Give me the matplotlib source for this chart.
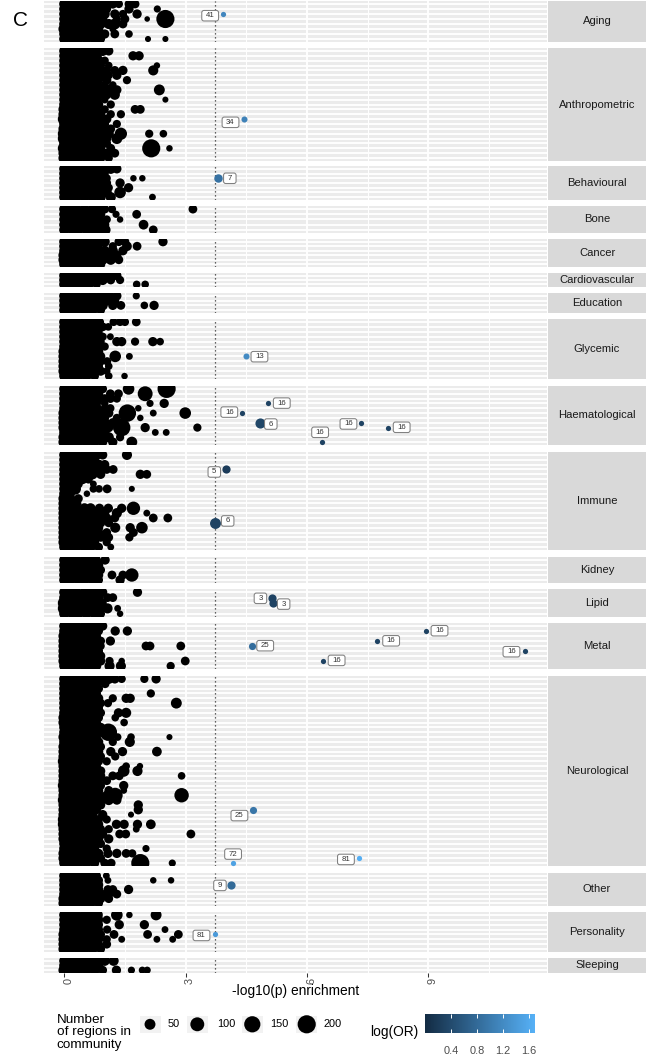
import numpy as np
import matplotlib
matplotlib.use("Agg")
import matplotlib.pyplot as plt
import matplotlib.transforms as mtransforms
from matplotlib.colors import LinearSegmentedColormap, Normalize
from matplotlib.cm import ScalarMappable
from matplotlib.patches import FancyBboxPatch, Rectangle

plt.rcParams["font.family"] = ["Liberation Sans", "DejaVu Sans"]

W, H, DPI = 655, 1057, 100

# ---------------------------------------------------------------- data
FACETS = ["Aging", "Anthropometric", "Behavioural", "Bone", "Cancer",
          "Cardiovascular", "Education", "Glycemic", "Haematological", "Immune",
          "Kidney", "Lipid", "Metal", "Neurological", "Other", "Personality",
          "Sleeping"]

# -log10(p) enrichment of every community for each trait (one string per trait
# row, top to bottom). "x/n" = community with n regions; a bare x uses
# TYPICAL_REGIONS.
TYPICAL_REGIONS = 40

AGING = [
    "0 .15 .3 .5 .7 .9 1.05 1.2/30 1.35/20 1.6/25 1.75/25",
    "0 .15 .3 .5 .7 .85 1.05/25 1.6/30 2.3/12",
    "0 .15 .3 .45 .6 .8 1.0 1.25/30 1.45/20 1.8/30",
    "0 .2 .4 .55 .75 .95/30 1.3/20 1.5/25 2.05/4 2.5/200",
    "0 .15 .35 .5 .7 .9 1.1 1.25/50 1.45/25",
    "0/60 .2 .35 .5 .7 .85/30 1.2/10",
    "0 .15 .3 .5 .65 .8 1.0/30 1.25/25 1.6/15",
    "0 .2 .35 .55 .75 .9/25 2.07/6 2.5/6",
]
ANTHROPOMETRIC = [
    "0 .15 .3 .5 .65 .8 .95 1.1/30",
    "0 .15 .3 .45 .6 .8 1.7/30 1.85/30",
    "0 .2 .35 .5 .7 .85 1.0/20",
    "0 .15 .3 .5 .7 .9/25 1.1/15 2.29/8",
    "0 .15 .3 .5 .65 .85 1.05/25 1.25/25 1.45/30 2.2/40",
    "0 .2 .4 .55 .75 .9 1.1/20 1.3/30",
    "0 .15 .3 .5 .7 .85/25 1.05/30 1.55/20",
    "0 .15 .35 .5 .65 .8 1.0/20 1.2/15",
    "0 .2 .35 .55 .7 .9 1.1/40 1.3/30 2.35/50",
    "0 .15 .3 .5 .65 .85 1.05/30 1.25/40",
    "0 .15 .3 .45 .6 .8 1.0/15 2.5/6",
    "0 .2 .35 .5 .7 .85/30 1.15/20",
    "0/60 .15 .35 .5 .65 .8/25 1.0/20 1.75/25 1.88/25",
    "0/60 .2 .35 .55 .75 .9/30 1.15/20 1.4/20",
    "0/80 .15 .3 .5 .7 .85 1.05/30",
    "0 .15 .3 .45 .6 .8 1.0/25 1.3/20",
    "0/60 .2 .35 .55 .75 .95/30 1.15/25",
    "0/80 .15 .3 .5 .7 .9 1.1/40 1.4/70 2.1/20 2.45/15",
    "0/80 .2 .35 .5 .65 .85 1.05/30 1.3/50",
    "0 .15 .3 .5 .7 .85 1.05/25",
    "0/80 .15 .35 .5 .7 .9/30 1.15/25 2.15/200 2.6/8",
    "0/60 .15 .3 .5 .65 .85 1.05/30 1.25/25",
    "0/60 .2 .35 .55 .75 .9/30 1.1/20",
]
BEHAVIOURAL = [
    "0 .15 .3 .5 .7 .85 1.0 1.15 1.3/30",
    "0 .15 .3 .5 .65 .8 1.0/20",
    "0 .2 .35 .5 .7 .9/25 1.05/20 1.71/8 1.93/8",
    "0 .15 .3 .45 .65 .85 1.05/25 1.38/30",
    "0 .15 .3 .5 .7 .9/30 1.1/20 1.59/30",
    "0 .2 .35 .55 .7 .85 1.05/40 1.38/60",
    "0 .15 .3 .5 .7 .9 1.15/40 2.18/10",
]
BONE = [
    "0 .15 .3 .5 .7 .85 1.0/25 1.18/20 3.18/25",
    "0 .2 .35 .55 .75 .9/30 1.28/12 1.79/25",
    "0 .15 .3 .5 .7 .85 1.05/20 1.38/8",
    "0 .15 .35 .5 .65 .8 1.0/30 1.96/35",
    "0 .2 .35 .55 .7 .85 1.01/50 2.2/25",
]
CANCER = [
    "0 .15 .3 .5 .65 .8 1.0 1.35/25 1.5/25 2.44/30",
    "0 .2 .35 .5 .7 .85/20 1.2/20 1.55/35 1.8/25",
    "0 .15 .3 .45 .6 .8 1.0 1.2 1.45/30",
    "0/60 .15 .35 .5 .7 .9 1.1 1.3/30",
    "0/60 .2 .35 .55 .75 .95 1.15 1.35/25",
    "0 .15 .3 .5 .7 .9/30",
]
CARDIOVASCULAR = [
    "0 .15 .3 .5 .7 .9 1.1 1.3/30",
    "0 .15 .35 .55 .75 .95 1.15/25 1.38/20",
    "0 .2 .4 .6 .8/20 1.79/15 2.0/15",
]
EDUCATION = [
    "0 .15 .3 .5 .7 .9 1.1 1.3/30 1.78/12",
    "0 .15 .35 .5 .7 .85 1.05 1.25/25",
    "0 .2 .35 .55 .75 .95 1.2/30 1.4/25 1.98/15 2.22/30",
    "0 .15 .3 .5 .7 .9/25",
]
GLYCEMIC = [
    "0 .15 .3 .5 .65 .8/30 .89/15 1.22/20 1.38/20 1.5/20 1.78/25",
    "0 .15 .3 .45 .6 .8 .95/25 1.09/15",
    "0 .2 .35 .55 .7 .85/20",
    "0 .15 .3 .5 .65 .8 .95/20 1.14/10",
    "0 .15 .35 .5 .7 .9/20 1.3/30 1.42/30 1.75/20 2.19/30 2.37/15",
    "0 .2 .35 .5 .7 .85/25 1.0/20",
    "0/60 .15 .3 .5 .65 .85/30",
    "0/60 .15 .35 .55 .75 .9/30 1.26/60 1.61/10",
    "0/60 .2 .35 .5 .7 .9/25 1.06/20",
    "0/60 .15 .3 .5 .65 .85/25 1.1/15",
    "0/60 .15 .35 .55 .7 .9/30 1.05/15",
    "0 .2 .35 .55 .75/25 1.1/15 1.49/8",
]
HAEMATOLOGICAL = [
    "0 .15 .3 .5 .65 .8 .95/25 1.59/60 2.53/200",
    "0 .15 .35 .5 .7 .85/30 1.14/25 1.34/25 2.0/120",
    "0 .2 .35 .5 .7 .85 1.0/25 1.14/25 1.3/20",
    "0 .15 .3 .5 .65 .8/25 1.0/15 2.12/12 2.47/30",
    "0 .15 .3 .45 .6 .8 1.0/20 1.14/20 1.83/8",
    "0/60 .2 .35 .55 .7 .9 1.1/30 1.56/180 2.2/10 2.99/60",
    "0/60 .15 .3 .5 .7 .85 1.0/25 1.3/20 1.88/8",
    "0/60 .15 .35 .5 .65 .8 1.0/40 1.2/30",
    "0/60 .2 .35 .55 .75 .9 1.1/30 1.42/180 2.0/30 3.29/20",
    "0 .15 .3 .5 .65 .8 1.0/30 2.25/10 2.52/10",
    "0/60 .15 .3 .5 .7 .9 1.1/40 1.38/20",
    "0/60 .2 .35 .55 .75 .95/30 1.2/30 1.67/50",
]
IMMUNE = [
    "0 .15 .3 .5 .65 .8 .95/30 1.55/40",
    "0 .15 .3 .45 .6 .75/25",
    "0 .2 .35 .5 .7 .85 1.0/30",
    "0 .15 .3 .5 .65 .85 1.05/25 1.21/25",
    "0 .15 .35 .5 .7 .9/30 1.88/30 2.04/25",
    "0 .15 .3 .45 .6/25",
    "0 .2 .35/25 .72/10",
    "0 .15/25 .27/60 .72/15 .86/15 1.06/25 1.67/6",
    "0 .15/30 .56/8",
    "0/60 .15 .35/25",
    "0/60 .15 .3/25 .35/6",
    "0/60 .15 .3 .5 .65 .87/30 1.09/30 1.42/30 1.71/90",
    "0/60 .2 .35 .5 .7 .85 1.0/30 1.3/40 2.04/10",
    "0/60 .15 .3 .5 .65 .85 1.05/30 1.25/25 2.2/25 2.56/25",
    "0/60 .15 .35 .55 .7 .9/30 1.1/25",
    "0/60 .2 .35 .5 .7 .85/30 1.26/40 1.63/30 1.92/60",
    "0/60 .15 .3 .5 .65 .85/30 1.05/25 1.71/25",
    "0/60 .15 .35 .5 .7 .9/25 1.0/25 1.1/25 1.61/20",
    "0/60 .2 .35 .55 .75/30 1.05/20",
    "0 .15 .3 .5 .65 .85/25 1.15/10",
]
KIDNEY = [
    "0 .15 .3 .5 .65 .8/25 1.01/30",
    "0 .15 .35 .5 .7 .85/30",
    "0 .2 .35 .55 .7 .9/25",
    "0 .15 .3 .5 .65 .85/30 1.18/25 1.45/25 1.67/90",
    "0 .15 .35 .5 .7 .85/25 1.38/30",
]
LIPID = [
    "0 .15 .3 .5 .65 .8 .95/30 1.81/30",
    "0 .2 .35 .55 .7 .85 1.07/25 1.2/25",
    "0/80 .15 .3 .5 .65 .8/30 .95/20",
    "0/80 .15 .35 .5 .7 .9/25 1.07/40 1.32/10",
    "0 .2 .35 .55 .75 .9/25 1.38/8",
]
METAL = [
    "0 .15 .3 .5 .65 .8 .95/30",
    "0 .15 .35 .5 .7 .85/25 1.26/30 1.56/30",
    "0/60 .2 .35 .5 .65 .8/25",
    "0/60 .15 .3 .5 .7 .9/25 1.14/30",
    "0/60 .2 .35 .55 .75/30 .9/20 2.02/25 2.12/25 2.88/25",
    "0/60 .15 .3 .5 .65 .85/25",
    "0/60 .15 .35 .5 .7 .9/30",
    "0/60 .2 .35 .55 .75 .9/30 1.12/20 1.42/8 2.99/25",
    "0 .15 .3 .5 .65 .8/30 1.12/40 1.4/40 2.63/20",
]
NEUROLOGICAL = [
    "0 .15 .3 .5 .7 .9 1.1 1.25/30 1.42/20 1.98/20 2.27/30",
    "0 .15 .3 .5 .65 .8 1.01/25",
    "0 .2 .35 .55 .7 .85/25",
    "0 .15 .3 .45 .6 .8/25 2.14/20",
    "0 .15 .35 .5 .7 .85/30 1.2/20 1.53/30 1.63/30",
    "0 .2 .35 .5 .7 .9/25 1.08/20 2.77/50",
    "0 .15 .3 .5 .65 .85/25",
    "0 .15 .35 .55 .7 .9/25 1.34/30 1.53/40",
    "0/60 .2 .35 .5 .7 .85/25 1.26/15",
    "0/60 .15 .3 .5 .65 .8/25 1.48/15",
    "0 .15 .35 .5 .7 .9/30",
    "0 .2 .35 .55 .7 .85/25 1.09/180",
    "0/60 .15 .3 .5 .65 .8/25 1.32/15 1.65/15 2.6/6",
    "0 .15 .35 .5 .7 .85/30 1.2/20 1.62/40",
    "0/60 .2 .35 .55 .75 .9/25",
    "0/60 .15 .3 .5 .65 .85/30 1.15/30 1.44/30 2.29/35",
    "0/60 .15 .35 .5 .7 .9/25 1.26/20",
    "0/80 .2 .35 .55 .7 .85/25 1.05/20",
    "0/60 .15 .3 .5 .65 .8/25 1.53/15 1.87/8",
    "0/60 .15 .35 .5 .7 .9/30 1.47/60 1.81/40",
    "0/60 .2 .35 .55 .75 .9/30 1.2/25 1.36/25 2.9/15",
    "0/60 .15 .3 .5 .65 .85/25 1.05/25",
    "0/80 .15 .35 .5 .7 .9/25 1.47/30",
    "0/60 .2 .35 .55 .7 .85/30 1.1/25 1.47/10",
    "0/60 .15 .3 .5 .65 .85 1.05/30 1.26/120 2.9/110",
    "0/80 .15 .35 .5 .7 .9 1.1/40 1.3/30",
    "0/60 .2 .35 .55 .75 .9/30 1.83/30",
    "0/60 .15 .3 .5 .65 .8/25 1.83/30",
    "0/60 .15 .35 .5 .7 .95/30 1.65/6",
    "0/80 .2 .35 .55 .7 .85/25 1.05/20",
    "0/80 .15 .3 .5 .65 .85/30 1.29/30 1.48/30 1.81/30 2.14/35",
    "0/60 .15 .35 .5 .7 .9/25 1.1/20 1.78/10",
    "0/60 .2 .35 .55 .75 .95/30 1.37/25 1.52/25 3.13/25",
    "0/60 .15 .3 .5 .65 .85/30 1.1/30",
    "0 .15 .35 .5 .7 .9/25",
    "0 .2 .35 .55 .75/30 1.05/20 2.02/12",
    "0/60 .15 .3 .5 .65 .85/30 1.08/30 1.3/30 1.53/25 1.68/20",
    "0/60 .15 .35 .5 .7 .9/25",
    "0 .2 .35 .55 .75/30 1.0/25 1.16/25 1.88/200 2.67/12",
]
OTHER = [
    "0 .15 .3 .5 .65 .8/25 1.04/10",
    "0 .15 .35 .5 .7 .85/25 1.08/10 2.2/8 2.64/8",
    "0 .2 .35 .55 .7 .85/30",
    "0 .15 .3 .5 .65 .85/30 1.08/25 1.2/25 1.59/30",
    "0 .15 .35 .5 .7 .9 1.1/30 1.3/25",
    "0/60 .2 .35 .55 .75 .9/30 1.1/25",
    "0/60 .15 .3 .5 .65 .85/25",
]
PERSONALITY = [
    "0 .15 .3 .5 .65 .81/60 1.3/60 1.61/8 2.27/50",
    "0 .15 .35 .5 .7 .85/30 1.05/20",
    "0 .2 .35 .55 .7 .85/25 1.36/30 1.98/30",
    "0 .15 .3 .5 .65 .85/25 1.06/20 2.49/10",
    "0/60 .15 .35 .5 .7 .9/25 1.23/25 2.06/25 2.82/25",
    "0/60 .2 .35 .55 .7 .85/30 1.05/20 1.42/10 2.29/10 2.68/10",
    "0/60 .15 .3 .5 .65 .85/25 1.05/25",
    "0/60 .15 .35 .5 .7 .9/25",
]
SLEEPING = [
    "0 .15 .3 .5 .65 .8 1.0/40 1.22/40",
    "0 .15 .35 .5 .7 .85/30",
    "0/60 .2 .35 .55 .75 .95/25 1.29/30 1.66/12 1.93/12 2.05/12",
]

FACET_ROWS = [AGING, ANTHROPOMETRIC, BEHAVIOURAL, BONE, CANCER, CARDIOVASCULAR,
              EDUCATION, GLYCEMIC, HAEMATOLOGICAL, IMMUNE, KIDNEY, LIPID, METAL,
              NEUROLOGICAL, OTHER, PERSONALITY, SLEEPING]

# significant community / trait pairs
SIG_FACET = ["Aging", "Anthropometric", "Behavioural", "Glycemic",
             "Haematological", "Haematological", "Haematological",
             "Haematological", "Haematological", "Haematological",
             "Immune", "Immune", "Lipid", "Lipid",
             "Metal", "Metal", "Metal", "Metal", "Metal",
             "Neurological", "Neurological", "Neurological",
             "Other", "Personality"]
SIG_ROW = [2, 14, 2, 7, 3, 5, 7, 7, 8, 11, 3, 14, 1, 2, 1, 3, 4, 5, 7, 27, 38, 37, 2, 4]
SIG_X = [3.92, 4.45, 3.81, 4.49, 5.03, 4.40, 4.84, 7.33, 8.01, 6.38, 3.99, 3.73,
         5.14, 5.15, 8.94, 7.74, 4.63, 11.38, 6.40, 4.66, 4.16, 7.29, 4.12, 3.73]
SIG_REGIONS = [3, 6, 22, 6, 3, 3, 40, 3, 3, 3, 20, 50, 20, 20, 3, 3, 12, 3, 3,
               12, 3, 3, 20, 3]
SIG_LOGOR = [1.15, 1.10, 0.90, 1.20, 0.30, 0.30, 0.35, 0.30, 0.30, 0.30, 0.22,
             0.30, 0.30, 0.30, 0.30, 0.30, 0.85, 0.30, 0.30, 0.95, 1.50, 1.65,
             0.80, 1.40]
SIG_LABEL = ["41", "34", "7", "13", "16", "16", "6", "16", "16", "16", "5", "6",
             "3", "3", "16", "16", "25", "16", "16", "25", "72", "81", "9", "81"]
# repelled label placement relative to its point (pixels, right / down)
LABEL_DX = [-12.7, -13.8, 11.4, 13.5, 14.0, -13.0, 10.7, -12.4, 13.3, -2.3, -11.4,
            12.5, -11.8, 11.0, 13.5, 13.7, 13.6, -13.3, 13.4, -13.4, 0.5, -13.3,
            -11.0, -13.7]
LABEL_DY = [1.7, 3.2, 0.0, 0.3, -0.3, -1.0, 1.3, 1.2, -0.3, -9.8, 2.5, -1.9, 0.7,
            1.1, -0.3, -0.2, -0.3, 0.7, -0.6, 5.8, -9.0, 1.2, 0.5, 1.0]

THRESHOLD = 3.73
X_BREAKS = [0, 3, 6, 9]
X_MINOR = [1.5, 4.5, 7.5, 10.5]
X_LIM = (-0.5, 11.93)
OR_LIM = (0.0, 1.69)
OR_BREAKS = [0.4, 0.8, 1.2, 1.6]
SIZE_BREAKS = [50, 100, 150, 200]

# ---------------------------------------------------------------- layout
FACET_TOP = [1, 48, 166, 206, 239, 273, 293, 319, 386, 452, 557, 589, 623, 676,
             873, 912, 958]
FACET_BOTTOM = [42, 161, 200, 233, 267, 287, 313, 379, 445, 550, 583, 617, 669,
                866, 906, 952, 973]
PANEL_L, PANEL_R = 44, 547
STRIP_L, STRIP_R = 548, 646

MM_PX = 3.8
N_LIM = (1, 350)

PANEL_BG = "#EBEBEB"
STRIP_BG = "#D9D9D9"
cmap = LinearSegmentedColormap.from_list("gg_blue", ["#132B43", "#56B1F7"])
norm = Normalize(*OR_LIM)


def px_rect(left, top, width, height):
    return [left / W, 1 - (top + height) / H, width / W, height / H]


def marker_area(n):
    n = np.asarray(n, dtype=float)
    r = np.clip((n - N_LIM[0]) / (N_LIM[1] - N_LIM[0]), 0, 1)
    d_px = MM_PX * (1 + 5 * np.sqrt(r))
    return (d_px * 72.0 / DPI) ** 2


def parse_row(text):
    xs, ns = [], []
    for tok in text.split():
        if "/" in tok:
            a, b = tok.split("/")
            xs.append(float(a))
            ns.append(float(b))
        else:
            xs.append(float(tok))
            ns.append(TYPICAL_REGIONS)
    return xs, ns


fig = plt.figure(figsize=(W / DPI, H / DPI), dpi=DPI)
fig.patch.set_facecolor("white")

axes = {}
for i, facet in enumerate(FACETS):
    top, bot = FACET_TOP[i], FACET_BOTTOM[i]
    rows = FACET_ROWS[i]
    nrow = len(rows)
    ax = fig.add_axes(px_rect(PANEL_L, top, PANEL_R - PANEL_L, bot - top))
    axes[facet] = ax
    ax.set_facecolor(PANEL_BG)
    ax.set_xlim(*X_LIM)
    ax.set_ylim(nrow - 1 + 0.6, -0.6)
    for s in ax.spines.values():
        s.set_visible(False)
    for xv in X_BREAKS:
        ax.axvline(xv, color="white", lw=1.35, zorder=0.5)
    for xv in X_MINOR:
        ax.axvline(xv, color="white", lw=0.7, zorder=0.5)
    for r in range(nrow):
        ax.axhline(r, color="white", lw=1.35, zorder=0.5)
    ax.axvline(THRESHOLD, color="#333333", lw=0.9, ls=(0, (1, 2.2)), zorder=1)

    px_, py_, pn_ = [], [], []
    for r, text in enumerate(rows):
        xs, ns = parse_row(text)
        px_ += xs
        py_ += [r] * len(xs)
        pn_ += ns
    ax.scatter(px_, py_, s=marker_area(pn_), c="black", linewidths=0, zorder=2)

    ax.set_yticks([])
    if i == len(FACETS) - 1:
        ax.set_xticks(X_BREAKS)
        ax.set_xticklabels([str(b) for b in X_BREAKS], rotation=90,
                           fontsize=7.9, color="#4D4D4D", va="top", ha="center")
        ax.tick_params(axis="x", length=2.7, width=0.75, color="#333333", pad=0.8)
    else:
        ax.set_xticks([])

    sax = fig.add_axes(px_rect(STRIP_L, top, STRIP_R - STRIP_L, bot - top))
    sax.set_facecolor(STRIP_BG)
    sax.set_xticks([])
    sax.set_yticks([])
    for s in sax.spines.values():
        s.set_visible(False)
    sax.text(0.5, 0.5, facet, transform=sax.transAxes, ha="center", va="center",
             fontsize=8.1, color="#1A1A1A")

# significant points with their labels
for k in range(len(SIG_FACET)):
    ax = axes[SIG_FACET[k]]
    x, y = SIG_X[k], SIG_ROW[k]
    ax.scatter([x], [y], s=marker_area([SIG_REGIONS[k]]),
               c=[cmap(norm(SIG_LOGOR[k]))], linewidths=0, zorder=4)
    tr = (mtransforms.Affine2D().translate(LABEL_DX[k], -LABEL_DY[k])
          + mtransforms.ScaledTranslation(x, y, ax.transData))
    lab = SIG_LABEL[k]
    bw = 8.2 + 4.3 * len(lab)
    bh = 10.5
    ax.add_patch(FancyBboxPatch((-bw / 2, -bh / 2), bw, bh,
                                boxstyle="round,pad=0,rounding_size=2.2",
                                transform=tr, fc="white", ec="#7F7F7F", lw=0.75,
                                zorder=5, clip_on=False))
    ax.text(0, 0, lab, transform=tr, ha="center", va="center", fontsize=5.6,
            color="#333333", zorder=6, clip_on=False)

# overlay for free-standing text and the size legend
ov = fig.add_axes([0, 0, 1, 1], zorder=-1)
ov.set_xlim(0, W)
ov.set_ylim(H, 0)
ov.axis("off")

ov.text(20, 20.5, "C", ha="center", va="center", fontsize=15, color="black")
ov.text((PANEL_L + PANEL_R) / 2, 991, "-log10(p) enrichment", ha="center",
        va="center", fontsize=9.9, color="black")

for yy, line in zip([1020, 1032.3, 1045], ["Number", "of regions in", "community"]):
    ov.text(56.7, yy, line, ha="left", va="center", fontsize=9.7, color="black")

KEY_CX = [150, 197.3, 252.3, 306.7]
KEY_TX = [168, 216.7, 270, 324]
KEY_CY = 1024.3
for cx, tx, n in zip(KEY_CX, KEY_TX, SIZE_BREAKS):
    ov.add_patch(Rectangle((cx - 10.5, KEY_CY - 8.5), 21, 17, fc="#F2F2F2",
                           ec="none", zorder=1))
    ov.text(tx, KEY_CY, str(n), ha="left", va="center", fontsize=7.9,
            color="black")
ov.scatter(KEY_CX, [KEY_CY] * len(KEY_CX), s=marker_area(SIZE_BREAKS),
           c="black", linewidths=0, zorder=2)

ov.text(370, 1032.3, "log(OR)", ha="left", va="center", fontsize=9.9,
        color="black")

cax = fig.add_axes(px_rect(425, 1014.3, 110, 19))
cb = fig.colorbar(ScalarMappable(norm=norm, cmap=cmap), cax=cax,
                  orientation="horizontal")
cb.outline.set_visible(False)
cb.set_ticks(OR_BREAKS)
cb.set_ticklabels([f"{b:.1f}" for b in OR_BREAKS])
cax.tick_params(axis="x", direction="in", length=3.0, width=0.7, color="white",
                top=True, bottom=True, labelsize=7.9, labelcolor="#4D4D4D", pad=9)

# rotated tick labels sit slightly to the right of their ticks
bottom_ax = axes[FACETS[-1]]
for t in bottom_ax.get_xticklabels():
    t.set_transform(t.get_transform() + mtransforms.Affine2D().translate(4.5, 0))

fig.savefig("out.png", dpi=DPI, facecolor="white")
